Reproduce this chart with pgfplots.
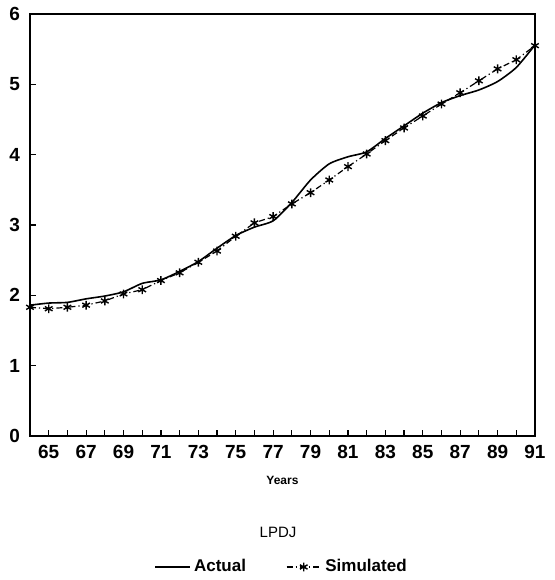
\documentclass[border=0pt]{standalone}
\usepackage{fontspec}
\setmainfont{Liberation Sans}
\usepackage{pgfplots}
\pgfplotsset{compat=1.18}
\begin{document}
\begin{tikzpicture}
\begin{axis}[
 at={(0,0)}, anchor=south west,
 scale only axis, width=252.5pt, height=211pt,
 xmin=64, xmax=91, ymin=0, ymax=6,
 xtick={65,67,...,91}, minor xtick={66,68,...,90},
 ytick={0,1,...,6},
 xtick pos=bottom, ytick pos=left, tick align=inside,
 major tick length=3pt, minor tick length=3pt,
 axis line style={line width=0.9pt},
 every tick/.style={line width=0.6pt, black},
 ticklabel style={font=\bfseries\fontsize{9.5}{10}\selectfont},
 xticklabel style={yshift=-1pt},
 yticklabel style={xshift=-1.5pt},
 /pgf/number format/assume math mode=true,
 xlabel={Years},
 xlabel style={font=\bfseries\fontsize{6}{7}\selectfont, at={(axis description cs:0.5,0)}, anchor=center, yshift=-22pt},
 legend columns=2,
 legend style={draw=none, fill=none, at={(0.5,-0.3104)}, anchor=center,
   font=\bfseries\fontsize{8.5}{10}\selectfont,
   /tikz/every even column/.append style={column sep=18pt}},
]
\addplot[black, line width=0.8pt, smooth, tension=0.4] coordinates {
(64,1.86)(65,1.89)(66,1.90)(67,1.95)(68,1.99)(69,2.05)(70,2.17)(71,2.22)
(72,2.34)(73,2.48)(74,2.67)(75,2.85)(76,2.97)(77,3.06)(78,3.32)(79,3.64)
(80,3.87)(81,3.97)(82,4.04)(83,4.23)(84,4.41)(85,4.59)(86,4.74)(87,4.84)
(88,4.92)(89,5.04)(90,5.24)(91,5.56)};
\addlegendentry{Actual}
\addplot[black, line width=0.6pt, dash pattern=on 3pt off 1.5pt on 0.6pt off 1.5pt,
  mark=asterisk, mark size=2.2pt, mark options={solid, line width=0.7pt}] coordinates {
(64,1.83)(65,1.81)(66,1.83)(67,1.86)(68,1.92)(69,2.02)(70,2.08)(71,2.21)
(72,2.32)(73,2.47)(74,2.63)(75,2.84)(76,3.03)(77,3.12)(78,3.30)(79,3.46)
(80,3.64)(81,3.83)(82,4.01)(83,4.20)(84,4.38)(85,4.55)(86,4.72)(87,4.88)
(88,5.05)(89,5.22)(90,5.35)(91,5.55)};
\addlegendentry{Simulated}
\end{axis}
\node[font=\fontsize{7.5}{9}\selectfont] at (124pt,-48pt) {LPDJ};
\pgfresetboundingbox
\useasboundingbox (-15pt,-72pt) rectangle (262.5pt,218pt);
\end{tikzpicture}
\end{document}
